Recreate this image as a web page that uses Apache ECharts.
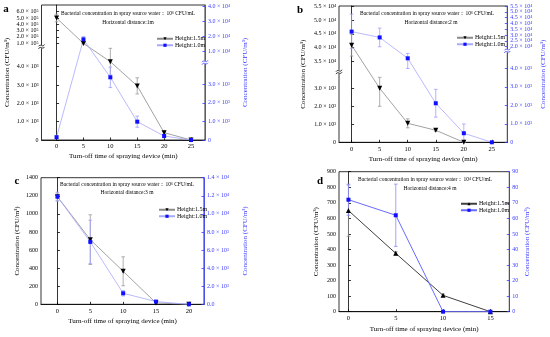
<!DOCTYPE html>
<html><head><meta charset="utf-8">
<script src="https://cdn.jsdelivr.net/npm/echarts@6/dist/echarts.min.js"></script>
<style>html,body{margin:0;padding:0;background:#fff}#c{width:550px;height:337px}</style>
</head><body><div id="c"></div><script>
// ---------------- data ----------------
const xTicksAB = [0, 5, 10, 15, 20, 25];
const xTicksC = [0, 5, 10, 15, 20];
const xTicksD = [0, 5, 10, 15];

// panel a (1 m)
const aX = [0, 5, 10, 15, 20, 25];
const aH15 = [500000, 95000, 4270, 2950, 400, 0];
const aH15Err = [60000, 5000, 730, 440, 100, 0];
const aH10 = [150, 18100, 3370, 985, 215, 0];
const aH10Err = [80, 1800, 550, 300, 100, 0];
const aLeftTicks = [0, 1000, 2000, 3000, 4000, 100000, 200000, 300000, 400000, 500000, 600000];
const aLeftLabels = ['0', '1.0 × 10³', '2.0 × 10³', '3.0 × 10³', '4.0 × 10³', '1.0 × 10⁵', '2.0 × 10⁵', '3.0 × 10⁵', '4.0 × 10⁵', '5.0 × 10⁵', '6.0 × 10⁵'];
const aRightTicks = [0, 1000, 2000, 3000, 10000, 20000, 30000, 40000];
const aRightLabels = ['0', '1.0 × 10³', '2.0 × 10³', '3.0 × 10³', '1.0 × 10⁴', '2.0 × 10⁴', '3.0 × 10⁴', '4.0 × 10⁴'];

// panel b (2 m)
const bX15 = [0, 5, 10, 15, 20];
const bH15 = [40800, 3000, 1055, 667, 0];
const bH15Err = [4000, 1000, 250, 60, 0];
const bX10 = [0, 5, 10, 15, 20, 25];
const bH10 = [33000, 28000, 4540, 2110, 490, 0];
const bH10Err = [15000, 8000, 550, 750, 500, 0];
const bLeftTicks = [0, 1000, 2000, 3000, 35000, 40000, 45000, 50000, 55000];
const bLeftLabels = ['0', '1.0 × 10³', '2.0 × 10³', '3.0 × 10³', '3.5 × 10⁴', '4.0 × 10⁴', '4.5 × 10⁴', '5.0 × 10⁴', '5.5 × 10⁴'];
const bRightTicks = [0, 1000, 2000, 3000, 4000, 20000, 25000, 30000, 35000, 40000, 45000, 50000, 55000];
const bRightLabels = ['0', '1.0 × 10³', '2.0 × 10³', '3.0 × 10³', '4.0 × 10³', '2.0 × 10⁴', '2.5 × 10⁴', '3.0 × 10⁴', '3.5 × 10⁴', '4.0 × 10⁴', '4.5 × 10⁴', '5.0 × 10⁴', '5.5 × 10⁴'];

// panel c (3 m)
const cX = [0, 5, 10, 15, 20];
const cH15 = [1190, 715, 365, 15, 0];
const cH15Err = [40, 275, 160, 0, 0];
const cH10 = [11900, 6900, 1220, 300, 0];
const cH10Err = [500, 2400, 300, 0, 0];
const cLeftTicks = [0, 200, 400, 600, 800, 1000, 1200, 1400];
const cRightTicks = [0, 2000, 4000, 6000, 8000, 10000, 12000, 14000];
const cRightLabels = ['0.0', '2.0 × 10³', '4.0 × 10³', '6.0 × 10³', '8.0 × 10³', '1.0 × 10⁴', '1.2 × 10⁴', '1.4 × 10⁴'];

// panel d (4 m)
const dX = [0, 5, 10, 15];
const dH15 = [650, 375, 105, 0];
const dH15Err = [165, 10, 8, 0];
const dH10 = [72, 62, 0, 0];
const dH10Err = [10, 20, 0, 0];
const dLeftTicks = [0, 100, 200, 300, 400, 500, 600, 700, 800, 900];
const dRightTicks = [0, 10, 20, 30, 40, 50, 60, 70, 80, 90];

const titles = {
  a: ['Bacterial concentration in spray source water：10⁶ CFU/mL', 'Horizontal distance:1m'],
  b: ['Bacterial concentration in spray source water：10⁶ CFU/mL', 'Horizontal distance:2 m'],
  c: ['Bacterial concentration in spray source water：10⁶ CFU/mL', 'Horizontal distance:3 m'],
  d: ['Bacterial concentration in spray source water：10⁴ CFU/mL', 'Horizontal distance:4 m']
};
const xName = 'Turn-off time of spraying device (min)';
const yName = 'Concentration (CFU/m³)';
const nm15 = 'Height:1.5m', nm10 = 'Height:1.0m';

// ---------------- broken-axis scales (value -> axis units) ----------------
function pw(segs) {
  return v => {
    for (let i = 0; i < segs.length; i++) {
      const [v0, v1, d0, d1] = segs[i];
      if (v <= v1 || i === segs.length - 1) {
        if (i > 0 && v < v0) {
          const p = segs[i - 1];
          return p[3] + (v - p[1]) / (v0 - p[1]) * (d0 - p[3]);
        }
        return d0 + (v - v0) / (v1 - v0) * (d1 - d0);
      }
    }
  };
}
const segAL = [[0, 5000, 0, 91.7], [70000, 600000, 95, 128.3]];
const segAR = [[0, 4000, 0, 74.4], [5000, 40000, 80.7, 134]];
const segBL = [[0, 3600, 0, 64.8], [33000, 55000, 75.9, 135.6]];
const segBR = [[0, 4800, 0, 88.8], [19000, 55000, 94.4, 136.3]];
const sAL = pw(segAL), sAR = pw(segAR), sBL = pw(segBL), sBR = pw(segBR);
const id = v => v;

const SERIF = '"Liberation Serif", "DejaVu Serif", serif';
const BLUE = '#3b3bff';
const xTickFont = 6.5, yTickFont = 6;

function lookupFmt(ticks, labels, scale) {
  const disp = ticks.map(scale);
  return val => {
    let best = -1, bd = 1e9;
    for (let i = 0; i < disp.length; i++) {
      const d = Math.abs(disp[i] - val);
      if (d < bd) { bd = d; best = i; }
    }
    return bd < 0.05 * Math.max(1, Math.abs(val)) ? labels[best] : '';
  };
}

const grids = [
  { left: 41.5, top: 5, width: 163.5, height: 135 },
  { left: 339, top: 6, width: 168.3, height: 136.3 },
  { left: 41, top: 177.7, width: 163, height: 126.6 },
  { left: 339, top: 171.7, width: 170.3, height: 140 }
].map(g => Object.assign({ show: true, borderColor: '#000', borderWidth: 0.8, backgroundColor: 'transparent' }, g));

function xAx(gi, min, max, ticks, gap) {
  return {
    type: 'value', gridIndex: gi, min, max,
    name: xName, nameLocation: 'middle', nameGap: gap,
    nameTextStyle: { fontFamily: SERIF, fontSize: 7, color: '#000' },
    axisLine: { lineStyle: { color: '#000', width: 0.8 } },
    axisTick: { customValues: ticks, inside: true, length: 2.5, lineStyle: { color: '#000', width: 0.8 } },
    axisLabel: { customValues: ticks, fontFamily: SERIF, fontSize: xTickFont, color: '#000', margin: 3 },
    splitLine: { show: false }
  };
}
function yAx(gi, side, max, ticks, scale, labels, gap) {
  const col = side === 'right' ? BLUE : '#000';
  const disp = ticks.map(scale);
  return {
    type: 'value', gridIndex: gi, position: side, min: 0, max,
    name: yName, nameLocation: 'middle', nameGap: gap, nameRotate: 90,
    nameTextStyle: { fontFamily: SERIF, fontSize: 7, color: col },
    axisLine: { show: true, lineStyle: { color: col, width: 0.8 } },
    axisTick: { customValues: disp, inside: true, length: 2.5, lineStyle: { color: col, width: 0.8 } },
    axisLabel: { customValues: disp, formatter: lookupFmt(ticks, labels, scale), fontFamily: SERIF, fontSize: yTickFont, color: col, margin: 3 },
    splitLine: { show: false }
  };
}

const xAxes = [
  xAx(0, -2.8, 27.6, xTicksAB, 13),
  xAx(1, -2.25, 27.75, xTicksAB, 13.5),
  xAx(2, -2.5, 22.3, xTicksC, 13),
  xAx(3, -1, 17, xTicksD, 14)
];
const yAxes = [
  yAx(0, 'left', 135, aLeftTicks, sAL, aLeftLabels, 31),
  yAx(0, 'right', 135, aRightTicks, sAR, aRightLabels, 36.5),
  yAx(1, 'left', 136.3, bLeftTicks, sBL, bLeftLabels, 32.5),
  yAx(1, 'right', 136.3, bRightTicks, sBR, bRightLabels, 32.5),
  yAx(2, 'left', 1400, cLeftTicks, id, cLeftTicks.map(String), 20.5),
  yAx(2, 'right', 14000, cRightTicks, id, cRightLabels, 37.5),
  yAx(3, 'left', 900, dLeftTicks, id, dLeftTicks.map(String), 19),
  yAx(3, 'right', 90, dRightTicks, id, dRightTicks.map(String), 14)
];

function errRender(color) {
  return function (params, api) {
    const x = api.value(0), lo = api.value(1), hi = api.value(2);
    if (hi - lo < 1e-9) return null;
    const p1 = api.coord([x, lo]), p2 = api.coord([x, hi]);
    const w = 1.8;
    const st = { stroke: color, lineWidth: 0.8 };
    return { type: 'group', children: [
      { type: 'line', shape: { x1: p1[0], y1: p1[1], x2: p2[0], y2: p2[1] }, style: st },
      { type: 'line', shape: { x1: p1[0] - w, y1: p1[1], x2: p1[0] + w, y2: p1[1] }, style: st },
      { type: 'line', shape: { x1: p2[0] - w, y1: p2[1], x2: p2[0] + w, y2: p2[1] }, style: st }
    ] };
  };
}
function breakRender(params, api) {
  const p = api.coord([api.value(0), api.value(1)]);
  const st = { stroke: api.value(2) ? BLUE : '#000', lineWidth: 0.8, fill: null };
  return { type: 'group', children: [
    { type: 'rect', shape: { x: p[0] - 3, y: p[1] - 1.6, width: 6, height: 3.2 }, style: { fill: '#fff' } },
    { type: 'bezierCurve', shape: { x1: p[0] - 3, y1: p[1] - 0.3, cpx1: p[0] - 1, cpy1: p[1] - 3.5, cpx2: p[0] + 1, cpy2: p[1] + 1.5, x2: p[0] + 3, y2: p[1] - 2.2 }, style: st },
    { type: 'bezierCurve', shape: { x1: p[0] - 3, y1: p[1] + 2.2, cpx1: p[0] - 1, cpy1: p[1] - 1.5, cpx2: p[0] + 1, cpy2: p[1] + 3.5, x2: p[0] + 3, y2: p[1] + 0.3 }, style: st }
  ] };
}
function gapMid(segs) { return (segs[0][3] + segs[1][2]) / 2; }

const series = [];
function addPanel(pi, xs15, v15, e15, xs10, v10, e10, sL, sR, suffix, up, styles) {
  const xi = pi, yl = pi * 2, yr = pi * 2 + 1;
  series.push({
    type: 'custom', name: 'e15' + pi, xAxisIndex: xi, yAxisIndex: yl, z: 3, silent: true,
    renderItem: errRender(styles.err15), encode: { x: 0, y: [1, 2] },
    data: xs15.map((x, i) => [x, sL(v15[i] - e15[i]), sL(v15[i] + e15[i])])
  });
  series.push({
    type: 'custom', name: 'e10' + pi, xAxisIndex: xi, yAxisIndex: yr, z: 3, silent: true,
    renderItem: errRender(styles.err10), encode: { x: 0, y: [1, 2] },
    data: xs10.map((x, i) => [x, sR(v10[i] - e10[i]), sR(v10[i] + e10[i])])
  });
  series.push({
    type: 'line', name: nm15 + suffix, xAxisIndex: xi, yAxisIndex: yl, z: 4,
    data: xs15.map((x, i) => [x, sL(v15[i])]),
    symbol: 'triangle', symbolSize: 5, symbolRotate: up ? 0 : 180,
    itemStyle: { color: '#000' }, lineStyle: { color: styles.line15, width: styles.lw },
    emphasis: { disabled: true }, animation: false
  });
  series.push({
    type: 'line', name: nm10 + suffix, xAxisIndex: xi, yAxisIndex: yr, z: 4,
    data: xs10.map((x, i) => [x, sR(v10[i])]),
    symbol: 'rect', symbolSize: 4,
    itemStyle: { color: '#1010ff' }, lineStyle: { color: styles.line10, width: styles.lw },
    emphasis: { disabled: true }, animation: false
  });
}
const thin = { err15: '#9a9a9a', err10: '#9f9fff', line15: '#8a8a8a', line10: '#a8a8ff', lw: 0.8 };
addPanel(0, aX, aH15, aH15Err, aX, aH10, aH10Err, sAL, sAR, '', false, thin);
addPanel(1, bX15, bH15, bH15Err, bX10, bH10, bH10Err, sBL, sBR, ' ', false, thin);
addPanel(2, cX, cH15, cH15Err, cX, cH10, cH10Err, id, id, '  ', false, thin);
addPanel(3, dX, dH15, dH15Err, dX, dH10, dH10Err, id, id, '   ', true,
  { err15: '#8a8a8a', err10: '#8c8cff', line15: '#404040', line10: '#6a6aff', lw: 1 });

// break marks on the broken axes
series.push({ type: 'custom', name: 'brkA', xAxisIndex: 0, yAxisIndex: 0, z: 6, silent: true, clip: false, renderItem: breakRender, data: [[-2.8, gapMid(segAL), 0]] });
series.push({ type: 'custom', name: 'brkA2', xAxisIndex: 0, yAxisIndex: 1, z: 6, silent: true, clip: false, renderItem: breakRender, data: [[27.6, gapMid(segAR), 1]] });
series.push({ type: 'custom', name: 'brkB', xAxisIndex: 1, yAxisIndex: 2, z: 6, silent: true, clip: false, renderItem: breakRender, data: [[-2.25, gapMid(segBL), 0]] });
series.push({ type: 'custom', name: 'brkB2', xAxisIndex: 1, yAxisIndex: 3, z: 6, silent: true, clip: false, renderItem: breakRender, data: [[27.75, gapMid(segBR), 1]] });

function legend(suffix, left, top) {
  return {
    left, top, orient: 'vertical', itemGap: 0, itemWidth: 16, itemHeight: 4,
    data: [nm15 + suffix, nm10 + suffix], selectedMode: false,
    formatter: n => n.trim(),
    textStyle: { fontFamily: SERIF, fontSize: 6, color: '#000', lineHeight: 6.5, padding: [0, 0, 0, -3] }
  };
}

function txt(s, x, y, size, bold) {
  return { type: 'text', x, y, silent: true, style: { text: s, font: (bold ? 'bold ' : '') + size + 'px ' + SERIF, fill: '#000', textAlign: 'center', textVerticalAlign: 'middle' } };
}
const graphic = [
  txt('a', 6, 9, 11, true), txt('b', 300, 10, 11, true), txt('c', 17, 181, 11, true), txt('d', 320, 181, 11, true),
  txt(titles.a[0], 128, 14, 5.5), txt(titles.a[1], 128, 22.3, 5.5),
  txt(titles.b[0], 427, 13.3, 5.5), txt(titles.b[1], 431, 22.3, 5.5),
  txt(titles.c[0], 127, 184.3, 5.5), txt(titles.c[1], 127, 192.3, 5.5),
  txt(titles.d[0], 425, 180, 5.5), txt(titles.d[1], 430, 189, 5.5)
];

const chart = echarts.init(document.getElementById('c'), null, { renderer: 'canvas' });
chart.setOption({
  animation: false,
  backgroundColor: '#fff',
  grid: grids, xAxis: xAxes, yAxis: yAxes, series,
  legend: [legend('', 151, 30.5), legend(' ', 451, 29.5), legend('  ', 153, 201.5), legend('   ', 455, 195.5)],
  graphic
});
</script></body></html>
